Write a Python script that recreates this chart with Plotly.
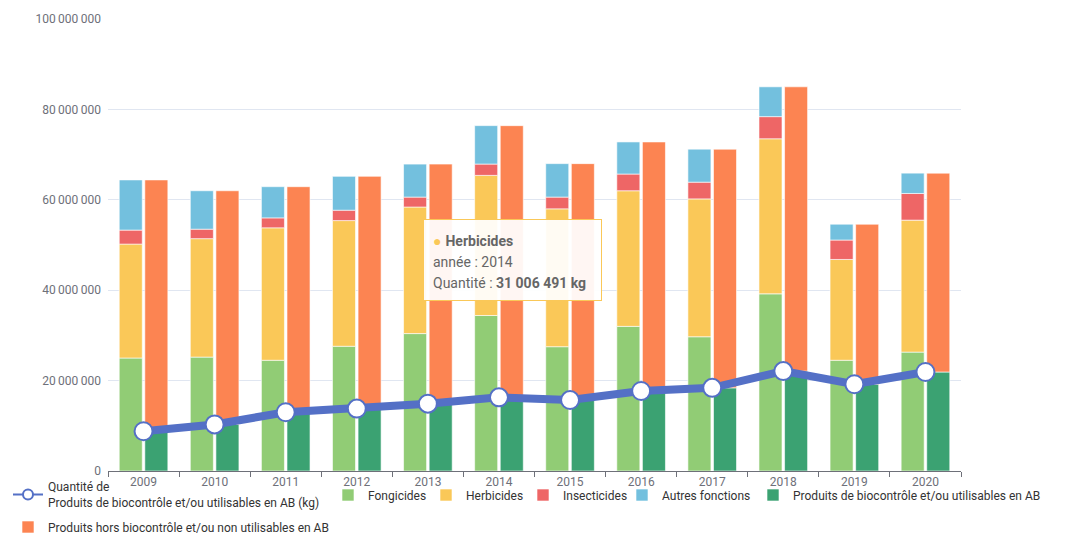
import plotly.graph_objects as go
import numpy as np

years = ["2009", "2010", "2011", "2012", "2013", "2014", "2015", "2016", "2017", "2018", "2019", "2020"]

fongicides = [25.0e6, 25.2e6, 24.5e6, 27.6e6, 30.4e6, 34.4e6, 27.5e6, 32.0e6, 29.7e6, 39.2e6, 24.5e6, 26.3e6]
herbicides = [25.2e6, 26.2e6, 29.3e6, 27.8e6, 28.0e6, 31006491, 30.5e6, 30.0e6, 30.5e6, 34.3e6, 22.3e6, 29.2e6]
insecticides = [3.1e6, 2.1e6, 2.2e6, 2.3e6, 2.2e6, 2.5e6, 2.6e6, 3.7e6, 3.7e6, 4.9e6, 4.3e6, 5.9e6]
autres = [11.1e6, 8.5e6, 6.9e6, 7.5e6, 7.3e6, 8.5e6, 7.4e6, 7.1e6, 7.3e6, 6.6e6, 3.5e6, 4.5e6]
biocontrole = [8.8e6, 10.3e6, 13.0e6, 13.8e6, 14.9e6, 16.3e6, 15.7e6, 17.7e6, 18.4e6, 22.1e6, 19.2e6, 21.9e6]
hors_biocontrole = [55.6e6, 51.7e6, 49.9e6, 51.4e6, 53.0e6, 60.1e6, 52.3e6, 55.1e6, 52.8e6, 62.9e6, 35.4e6, 44.0e6]

LINE_NAME = "Quantité de<br>Produits de biocontrôle et/ou utilisables en AB (kg)"
FONT = "Roboto, Liberation Sans, sans-serif"
W, H = 1074, 534

# legend placement (pixel x of each legend box, pixel y of row centre)
legend_pos = {
    "legend": (8, 495), "legend2": (328, 495), "legend3": (426, 495), "legend4": (523, 495),
    "legend5": (622, 495), "legend6": (753, 495), "legend7": (8, 527),
}

fig = go.Figure()

# legend-only entry for the line (thin line + hollow circle, as in the reference legend)
fig.add_trace(go.Scatter(
    x=[None], y=[None], mode="lines+markers", name=LINE_NAME,
    line=dict(color="#5470c6", width=2),
    marker=dict(size=10, color="white", line=dict(color="#5470c6", width=2)),
    legend="legend",
))

left_series = [
    ("Fongicides", fongicides, "#91cc75", "legend2"),
    ("Herbicides", herbicides, "#fac858", "legend3"),
    ("Insecticides", insecticides, "#ee6666", "legend4"),
    ("Autres fonctions", autres, "#73c0de", "legend5"),
]
base = np.zeros(len(years))
for name, vals, col, leg in left_series:
    v = np.array(vals, dtype=float)
    fig.add_trace(go.Bar(x=years, y=v, base=base.copy(), name=name, offsetgroup="fonction",
                         marker=dict(color=col, line=dict(color="rgba(255,255,255,0.6)", width=1)),
                         legend=leg))
    base = base + v

right_series = [
    ("Produits de biocontrôle et/ou utilisables en AB", biocontrole, "#3ba272", "legend6"),
    ("Produits hors biocontrôle et/ou non utilisables en AB", hors_biocontrole, "#fc8452", "legend7"),
]
base = np.zeros(len(years))
for name, vals, col, leg in right_series:
    v = np.array(vals, dtype=float)
    fig.add_trace(go.Bar(x=years, y=v, base=base.copy(), name=name, offsetgroup="categorie",
                         marker=dict(color=col, line=dict(color="rgba(255,255,255,0.6)", width=1)),
                         legend=leg))
    base = base + v

fig.add_trace(go.Scatter(
    x=years, y=biocontrole, mode="lines+markers", name=LINE_NAME, showlegend=False,
    line=dict(color="#5470c6", width=8),
    marker=dict(size=18, color="white", line=dict(color="#5470c6", width=2)),
))

fig.add_annotation(
    xref="paper", yref="paper", x=(423 - 108) / 853, y=(471 - 219) / 452, xanchor="left", yanchor="top",
    text=("<span style='color:#fac858;font-size:14px'>●</span> <span style='font-size:14px'><b>Herbicides</b></span><br>"
          "<span style='font-size:14px'>année : 2014</span><br>"
          "<span style='font-size:14px'>Quantité : <b>31 006 491 kg</b></span>"),
    align="left", valign="bottom", showarrow=False, width=159, height=62,
    font=dict(family=FONT, size=16, color="#666666"),
    bgcolor="rgba(255,255,255,0.93)", bordercolor="#fac858", borderwidth=1, borderpad=9,
)

legends = {}
for key, (px, py) in legend_pos.items():
    legends[key] = dict(orientation="h", xref="container", yref="container",
                        x=px / W, y=1 - py / H, xanchor="left", yanchor="middle",
                        font=dict(family=FONT, size=12, color="#333333"),
                        itemwidth=30, bgcolor="rgba(0,0,0,0)")

fig.update_layout(
    width=W, height=H,
    margin=dict(l=108, r=113, t=19, b=63, autoexpand=False),
    paper_bgcolor="white", plot_bgcolor="white",
    barmode="group", bargap=0.28, bargroupgap=0.1,
    separators=",\u2009",
    font=dict(family=FONT, size=12, color="#6E7079"),
    showlegend=True,
    hovermode=False,
    **legends,
)
fig.update_xaxes(type="category", range=[-0.5, len(years) - 0.5],
                 showline=True, linecolor="#6E7079", linewidth=1,
                 ticks="outside", tickson="boundaries", ticklen=5, tickcolor="#6E7079",
                 showgrid=False, tickfont=dict(size=12, color="#6E7079"))
fig.update_yaxes(range=[0, 100e6], tickvals=[0, 20e6, 40e6, 60e6, 80e6, 100e6], tickformat=",d",
                 showgrid=True, gridcolor="#E0E6F1", zeroline=False, showline=False,
                 tickfont=dict(size=12, color="#6E7079"), ticks="", ticklabelstandoff=6)

fig.write_html("out.html", config={"displayModeBar": False},
               post_script="document.body.style.margin='0';")
